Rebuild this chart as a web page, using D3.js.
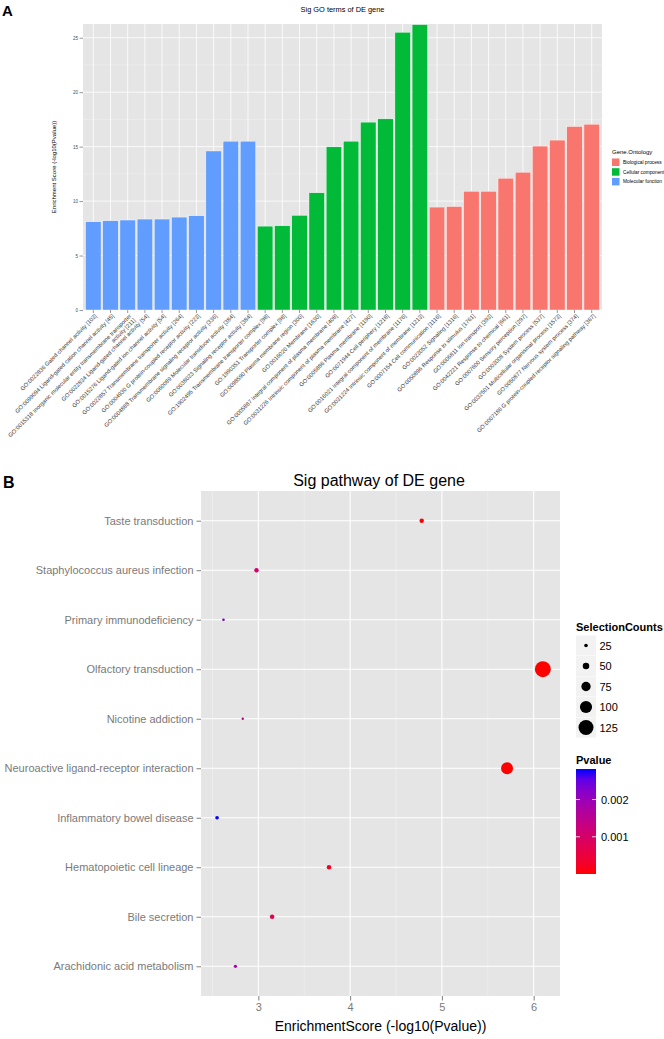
<!DOCTYPE html>
<html><head><meta charset="utf-8">
<script src="https://cdn.jsdelivr.net/npm/d3@7"></script>
<style>body{margin:0;background:#fff}svg{display:block;font-family:"Liberation Sans",Arial,sans-serif}</style>
</head><body><svg id="c" width="664" height="1039"></svg>
<script>
// ---------- Panel A data ----------
const goTerms = [
  "GO:0022836 Gated channel activity [103]",
  "GO:0099094 Ligand-gated cation channel activity [45]",
  "GO:0015318 Inorganic molecular entity transmembrane transporter\nactivity [211]",
  "GO:0022834 Ligand-gated channel activity [54]",
  "GO:0015276 Ligand-gated ion channel activity [54]",
  "GO:0022857 Transmembrane transporter activity [264]",
  "GO:0004930 G protein-coupled receptor activity [223]",
  "GO:0004888 Transmembrane signaling receptor activity [336]",
  "GO:0060089 Molecular transducer activity [384]",
  "GO:0038023 Signaling receptor activity [384]",
  "GO:1902495 Transmembrane transporter complex [98]",
  "GO:1990351 Transporter complex [98]",
  "GO:0098590 Plasma membrane region [300]",
  "GO:0016020 Membrane [1630]",
  "GO:0005887 Integral component of plasma membrane [408]",
  "GO:0031226 Intrinsic component of plasma membrane [427]",
  "GO:0005886 Plasma membrane [1190]",
  "GO:0071944 Cell periphery [1218]",
  "GO:0016021 Integral component of membrane [1176]",
  "GO:0031224 Intrinsic component of membrane [1213]",
  "GO:0007154 Cell communication [1116]",
  "GO:0023052 Signaling [1316]",
  "GO:0050896 Response to stimulus [1761]",
  "GO:0006811 Ion transport [393]",
  "GO:0042221 Response to chemical [661]",
  "GO:0007600 Sensory perception [297]",
  "GO:0003008 System process [537]",
  "GO:0032501 Multicellular organismal process [1573]",
  "GO:0050877 Nervous system process [374]",
  "GO:0007186 G protein-coupled receptor signaling pathway [367]"
];
const goScores = [8.1, 8.19, 8.26, 8.35, 8.35, 8.53, 8.65, 14.6, 15.5, 15.5,
                  7.7, 7.73, 8.69, 10.76, 14.98, 15.5, 17.25, 17.55, 25.5, 26.2,
                  9.45, 9.5, 10.9, 10.9, 12.1, 12.65, 15.05, 15.6, 16.85, 17.06];
const goOntology = [
  "Molecular function","Molecular function","Molecular function","Molecular function","Molecular function",
  "Molecular function","Molecular function","Molecular function","Molecular function","Molecular function",
  "Cellular component","Cellular component","Cellular component","Cellular component","Cellular component",
  "Cellular component","Cellular component","Cellular component","Cellular component","Cellular component",
  "Biological process","Biological process","Biological process","Biological process","Biological process",
  "Biological process","Biological process","Biological process","Biological process","Biological process"
];
const ontologyLevels = ["Biological process", "Cellular component", "Molecular function"];
const goYTicks = [0, 5, 10, 15, 20, 25];
const goYMinor = [2.5, 7.5, 12.5, 17.5, 22.5];

// ---------- Panel B data ----------
const pathways = [
  "Arachidonic acid metabolism", "Bile secretion", "Hematopoietic cell lineage",
  "Inflammatory bowel disease", "Neuroactive ligand-receptor interaction", "Nicotine addiction",
  "Olfactory transduction", "Primary immunodeficiency", "Staphylococcus aureus infection",
  "Taste transduction"
];
const pathScores = [2.75, 3.15, 3.77, 2.55, 5.71, 2.83, 6.1, 2.62, 2.98, 4.78];
const pathCounts = [22, 33, 33, 25, 98, 14, 133, 16, 32, 32];
const pathPvalues = [0.00178, 0.00071, 0.00017, 0.00282, 0.0000019, 0.00148, 0.0000008, 0.0024, 0.00105, 0.0000166];
const pathXTicks = [3, 4, 5, 6];
const pathXMinor = [2.5, 3.5, 4.5, 5.5];
const sizeLegendValues = [25, 50, 75, 100, 125];
const pvalueLegendTicks = [0.001, 0.002];

const svg = d3.select("#c");
const PANEL = "#E5E5E5", MINOR = "#F2F2F2", TXT = "#4D4D4D";

// ================= PANEL A =================
const A = {l: 83, r: 602, t: 24, b: 310};
const gA = svg.append("g");
gA.append("text").attr("x", 2).attr("y", 16).attr("font-size", 15).attr("font-weight", "bold").text("A");
gA.append("text").attr("x", (A.l + A.r) / 2).attr("y", 12).attr("text-anchor", "middle")
  .attr("font-size", 7.4).attr("fill", "#000").text("Sig GO terms of DE gene");

const xA = d3.scaleBand().domain(goTerms).range([A.l, A.r]).paddingInner(0.1).paddingOuter(0.15);
const yA = d3.scaleLinear().domain([0, 26.26]).range([A.b, A.t]);
const colA = d3.scaleOrdinal().domain(ontologyLevels).range(["#F8766D", "#00BA38", "#619CFF"]);

gA.append("rect").attr("x", A.l).attr("y", A.t).attr("width", A.r - A.l).attr("height", A.b - A.t).attr("fill", PANEL);
gA.selectAll(".mn").data(goYMinor).join("line")
  .attr("x1", A.l).attr("x2", A.r).attr("y1", d => yA(d)).attr("y2", d => yA(d))
  .attr("stroke", MINOR).attr("stroke-width", 0.5);
gA.selectAll(".mj").data(goYTicks).join("line")
  .attr("x1", A.l).attr("x2", A.r).attr("y1", d => yA(d)).attr("y2", d => yA(d))
  .attr("stroke", "#fff").attr("stroke-width", 0.8);
gA.selectAll(".vg").data(goTerms).join("line")
  .attr("x1", d => xA(d) + xA.bandwidth() / 2).attr("x2", d => xA(d) + xA.bandwidth() / 2)
  .attr("y1", A.t).attr("y2", A.b).attr("stroke", "#fff").attr("stroke-width", 0.8);

gA.selectAll(".bar").data(goTerms).join("rect")
  .attr("x", d => xA(d)).attr("width", xA.bandwidth())
  .attr("y", (d, i) => yA(goScores[i])).attr("height", (d, i) => yA(0) - yA(goScores[i]))
  .attr("fill", (d, i) => colA(goOntology[i])).attr("stroke", "#fff").attr("stroke-width", 0.4);

// y axis
const yAxA = gA.append("g").attr("transform", `translate(${A.l},0)`)
  .call(d3.axisLeft(yA).tickValues(goYTicks).tickSize(3.5).tickPadding(1.5));
yAxA.select(".domain").remove();
yAxA.selectAll("line").attr("stroke", "#333").attr("stroke-width", 0.5);
yAxA.selectAll("text").attr("font-size", 4.6).attr("fill", TXT).attr("font-family", "Liberation Sans, Arial");
gA.append("text").attr("transform", `translate(56,${(A.t + A.b) / 2}) rotate(-90)`)
  .attr("text-anchor", "middle").attr("font-size", 6).attr("fill", "#000")
  .text("Enrichment Score (-log10(Pvalue))");

// x axis
const xAxA = gA.append("g").attr("transform", `translate(0,${A.b})`)
  .call(d3.axisBottom(xA).tickSize(3).tickFormat(""));
xAxA.select(".domain").remove();
xAxA.selectAll("line").attr("stroke", "#333").attr("stroke-width", 0.5);
goTerms.forEach(t => {
  const cx = xA(t) + xA.bandwidth() / 2;
  const lines = t.split("\n");
  const tx = gA.append("text")
    .attr("transform", `translate(${cx + 2.5},${A.b + 5}) rotate(-45)`)
    .attr("text-anchor", "end").attr("font-size", 5.75).attr("fill", "#3a3a3a");
  lines.forEach((ln, k) => tx.append("tspan").attr("x", 0).attr("dy", k === 0 ? "0.35em" : "1.05em").text(ln));
});

// legend A
const lgA = gA.append("g").attr("transform", "translate(612,148)");
lgA.append("text").attr("x", 0).attr("y", 6).attr("font-size", 6).text("Gene.Ontology");
ontologyLevels.forEach((lv, i) => {
  lgA.append("rect").attr("x", 0).attr("y", 10.5 + i * 9.7).attr("width", 7.5).attr("height", 7.5).attr("fill", colA(lv));
  lgA.append("text").attr("x", 11).attr("y", 14.3 + i * 9.7 + 1.6).attr("font-size", 4.8).text(lv);
});

// ================= PANEL B =================
const B = {l: 201, r: 560, t: 491, b: 996};
const gB = svg.append("g");
gB.append("text").attr("x", 3).attr("y", 488).attr("font-size", 16).attr("font-weight", "bold").text("B");
gB.append("text").attr("x", 379).attr("y", 486).attr("text-anchor", "middle").attr("font-size", 16).text("Sig pathway of DE gene");

const xB = d3.scaleLinear().domain([2.375, 6.287]).range([B.l, B.r]);
const yB = d3.scalePoint().domain(pathways.slice().reverse()).range([B.t, B.b]).padding(0.6);
const rB = d3.scaleLinear().domain([0, 125]).range([0.4, 7.5]);
const pExt = d3.extent(pathPvalues);
const cB = d3.scaleLinear().domain(pExt).range(["red", "blue"]).interpolate(d3.interpolateLab);

gB.append("rect").attr("x", B.l).attr("y", B.t).attr("width", B.r - B.l).attr("height", B.b - B.t).attr("fill", PANEL);
gB.selectAll(".xm").data(pathXMinor).join("line")
  .attr("x1", d => xB(d)).attr("x2", d => xB(d)).attr("y1", B.t).attr("y2", B.b)
  .attr("stroke", MINOR).attr("stroke-width", 0.6);
gB.selectAll(".xM").data(pathXTicks).join("line")
  .attr("x1", d => xB(d)).attr("x2", d => xB(d)).attr("y1", B.t).attr("y2", B.b)
  .attr("stroke", "#fff").attr("stroke-width", 1.1);
gB.selectAll(".yM").data(pathways).join("line")
  .attr("x1", B.l).attr("x2", B.r).attr("y1", d => yB(d)).attr("y2", d => yB(d))
  .attr("stroke", "#fff").attr("stroke-width", 1.1);

gB.selectAll(".pt").data(pathways).join("circle")
  .attr("cx", (d, i) => xB(pathScores[i])).attr("cy", d => yB(d))
  .attr("r", (d, i) => rB(pathCounts[i])).attr("fill", (d, i) => cB(pathPvalues[i]));

const yAxB = gB.append("g").attr("transform", `translate(${B.l},0)`)
  .call(d3.axisLeft(yB).tickSize(4.5).tickPadding(3));
yAxB.select(".domain").remove();
yAxB.selectAll("line").attr("stroke", "#7f7f7f").attr("stroke-width", 1);
yAxB.selectAll("text").attr("font-size", 11).attr("fill", "#7a7a7a").attr("font-family", "Liberation Sans, Arial");

const xAxB = gB.append("g").attr("transform", `translate(0,${B.b})`)
  .call(d3.axisBottom(xB).tickValues(pathXTicks).tickSize(4.5).tickPadding(2.5).tickFormat(d3.format("d")));
xAxB.select(".domain").remove();
xAxB.selectAll("line").attr("stroke", "#7f7f7f").attr("stroke-width", 1);
xAxB.selectAll("text").attr("font-size", 11).attr("fill", "#7a7a7a").attr("font-family", "Liberation Sans, Arial");
gB.append("text").attr("x", (B.l + B.r) / 2).attr("y", 1031).attr("text-anchor", "middle")
  .attr("font-size", 14).text("EnrichmentScore (-log10(Pvalue))");

// size legend
const lgS = gB.append("g").attr("transform", "translate(576,0)");
lgS.append("text").attr("x", 0).attr("y", 631).attr("font-size", 11).attr("font-weight", "bold").text("SelectionCounts");
sizeLegendValues.forEach((v, i) => {
  const cy = 645.5 + i * 20.5;
  lgS.append("rect").attr("x", 0).attr("y", cy - 10).attr("width", 20).attr("height", 20).attr("fill", MINOR);
  lgS.append("circle").attr("cx", 10).attr("cy", cy).attr("r", rB(v)).attr("fill", "#000");
  lgS.append("text").attr("x", 23.5).attr("y", cy + 4).attr("font-size", 11).text(v);
});

// colour legend
const barTop = 769, barBot = 874;
const pyL = d3.scaleLinear().domain(pExt).range([barBot, barTop]);
const grad = svg.append("defs").append("linearGradient").attr("id", "pg")
  .attr("x1", 0).attr("y1", 1).attr("x2", 0).attr("y2", 0);
d3.range(0, 1.0001, 0.1).forEach(t => grad.append("stop").attr("offset", t)
  .attr("stop-color", cB(pExt[0] + t * (pExt[1] - pExt[0]))));
const lgC = gB.append("g").attr("transform", "translate(576,0)");
lgC.append("text").attr("x", 0).attr("y", 764).attr("font-size", 11).attr("font-weight", "bold").text("Pvalue");
lgC.append("rect").attr("x", 0).attr("y", barTop).attr("width", 20).attr("height", barBot - barTop).attr("fill", "url(#pg)");
pvalueLegendTicks.forEach(v => {
  const y = pyL(v);
  lgC.append("line").attr("x1", 0).attr("x2", 4).attr("y1", y).attr("y2", y).attr("stroke", "#fff").attr("stroke-width", 0.8);
  lgC.append("line").attr("x1", 16).attr("x2", 20).attr("y1", y).attr("y2", y).attr("stroke", "#fff").attr("stroke-width", 0.8);
  lgC.append("text").attr("x", 25).attr("y", y + 4).attr("font-size", 11).text(d3.format(".3f")(v));
});
</script></body></html>
